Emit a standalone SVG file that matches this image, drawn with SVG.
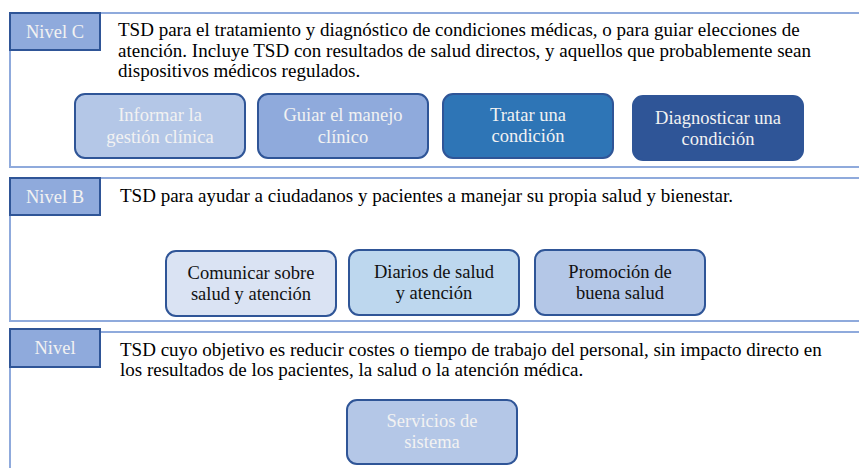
<svg xmlns="http://www.w3.org/2000/svg" width="859" height="468" viewBox="0 0 859 468">
<rect width="859" height="468" fill="#ffffff"/>
<g id="nivel-c">
  <rect x="10" y="13" width="860" height="154" fill="#ffffff" stroke="#8faadc" stroke-width="2"/>
  <rect x="10" y="13" width="90" height="37" fill="#8faadc" stroke="#2f5597" stroke-width="2"/>
  <text x="55" y="38" style="font-family:'Liberation Serif',serif;font-size:18.5px" fill="#f2f2f2" text-anchor="middle">Nivel C</text>
  <text x="118" y="36" style="font-family:'Liberation Serif',serif;font-size:19px" fill="#000000">TSD para el tratamiento y diagnóstico de condiciones médicas, o para guiar elecciones de</text>
  <text x="118" y="56.5" style="font-family:'Liberation Serif',serif;font-size:19px" fill="#000000">atención. Incluye TSD con resultados de salud directos, y aquellos que probablemente sean</text>
  <text x="118" y="77" style="font-family:'Liberation Serif',serif;font-size:19px" fill="#000000">dispositivos médicos regulados.</text>
</g>
<g id="nivel-b">
  <rect x="10" y="178" width="860" height="143" fill="#ffffff" stroke="#8faadc" stroke-width="2"/>
  <rect x="10" y="178" width="90" height="37" fill="#8faadc" stroke="#2f5597" stroke-width="2"/>
  <text x="55" y="202.5" style="font-family:'Liberation Serif',serif;font-size:18.5px" fill="#f2f2f2" text-anchor="middle">Nivel B</text>
  <text x="120" y="202" style="font-family:'Liberation Serif',serif;font-size:19px" fill="#000000">TSD para ayudar a ciudadanos y pacientes a manejar su propia salud y bienestar.</text>
</g>
<g id="nivel-a">
  <rect x="10" y="332" width="860" height="150" fill="#ffffff" stroke="#8faadc" stroke-width="2"/>
  <rect x="10" y="329" width="90" height="38" fill="#8faadc" stroke="#2f5597" stroke-width="2"/>
  <text x="55" y="353.5" style="font-family:'Liberation Serif',serif;font-size:18.5px" fill="#f2f2f2" text-anchor="middle">Nivel</text>
  <text x="120" y="355.5" style="font-family:'Liberation Serif',serif;font-size:19px" fill="#000000">TSD cuyo objetivo es reducir costes o tiempo de trabajo del personal, sin impacto directo en</text>
  <text x="120" y="376" style="font-family:'Liberation Serif',serif;font-size:19px" fill="#000000">los resultados de los pacientes, la salud o la atención médica.</text>
</g>
<g id="c1">
  <rect x="75" y="94" width="170" height="64" rx="10" fill="#b4c7e7" stroke="#2f5597" stroke-width="2"/>
  <text x="160" y="121" style="font-family:'Liberation Serif',serif;font-size:18.5px" fill="#f2f2f2" text-anchor="middle">Informar la</text>
  <text x="160" y="142.5" style="font-family:'Liberation Serif',serif;font-size:18.5px" fill="#f2f2f2" text-anchor="middle">gestión clínica</text>
</g>
<g id="c2">
  <rect x="258" y="94" width="170" height="64" rx="10" fill="#8faadc" stroke="#2f5597" stroke-width="2"/>
  <text x="343" y="121" style="font-family:'Liberation Serif',serif;font-size:18.5px" fill="#f2f2f2" text-anchor="middle">Guiar el manejo</text>
  <text x="343" y="142.5" style="font-family:'Liberation Serif',serif;font-size:18.5px" fill="#f2f2f2" text-anchor="middle">clínico</text>
</g>
<g id="c3">
  <rect x="443" y="94" width="170" height="64" rx="10" fill="#2e75b6" stroke="#2f5597" stroke-width="2"/>
  <text x="528" y="121" style="font-family:'Liberation Serif',serif;font-size:18.5px" fill="#f2f2f2" text-anchor="middle">Tratar una</text>
  <text x="528" y="142" style="font-family:'Liberation Serif',serif;font-size:18.5px" fill="#f2f2f2" text-anchor="middle">condición</text>
</g>
<g id="c4">
  <rect x="633" y="96" width="170" height="64" rx="10" fill="#2f5597" stroke="#2f5597" stroke-width="2"/>
  <text x="718" y="123.5" style="font-family:'Liberation Serif',serif;font-size:18.5px" fill="#f2f2f2" text-anchor="middle">Diagnosticar una</text>
  <text x="718" y="144.5" style="font-family:'Liberation Serif',serif;font-size:18.5px" fill="#f2f2f2" text-anchor="middle">condición</text>
</g>
<g id="b1">
  <rect x="166" y="251" width="170" height="65" rx="10" fill="#dae3f3" stroke="#2f5597" stroke-width="2"/>
  <text x="251" y="278.5" style="font-family:'Liberation Serif',serif;font-size:18.5px" fill="#111111" text-anchor="middle">Comunicar sobre</text>
  <text x="251" y="299.5" style="font-family:'Liberation Serif',serif;font-size:18.5px" fill="#111111" text-anchor="middle">salud y atención</text>
</g>
<g id="b2">
  <rect x="349" y="250" width="170" height="65" rx="10" fill="#bdd7ee" stroke="#2f5597" stroke-width="2"/>
  <text x="434" y="277.5" style="font-family:'Liberation Serif',serif;font-size:18.5px" fill="#111111" text-anchor="middle">Diarios de salud</text>
  <text x="434" y="298.5" style="font-family:'Liberation Serif',serif;font-size:18.5px" fill="#111111" text-anchor="middle">y atención</text>
</g>
<g id="b3">
  <rect x="535" y="250" width="170" height="65" rx="10" fill="#b4c7e7" stroke="#2f5597" stroke-width="2"/>
  <text x="620" y="277.5" style="font-family:'Liberation Serif',serif;font-size:18.5px" fill="#111111" text-anchor="middle">Promoción de</text>
  <text x="620" y="298.5" style="font-family:'Liberation Serif',serif;font-size:18.5px" fill="#111111" text-anchor="middle">buena salud</text>
</g>
<g id="a1">
  <rect x="347" y="400" width="170" height="64" rx="10" fill="#b4c7e7" stroke="#2f5597" stroke-width="2"/>
  <text x="432" y="427" style="font-family:'Liberation Serif',serif;font-size:18.5px" fill="#f2f2f2" text-anchor="middle">Servicios de</text>
  <text x="432" y="448" style="font-family:'Liberation Serif',serif;font-size:18.5px" fill="#f2f2f2" text-anchor="middle">sistema</text>
</g>
<g id="connectors"></g>
</svg>
